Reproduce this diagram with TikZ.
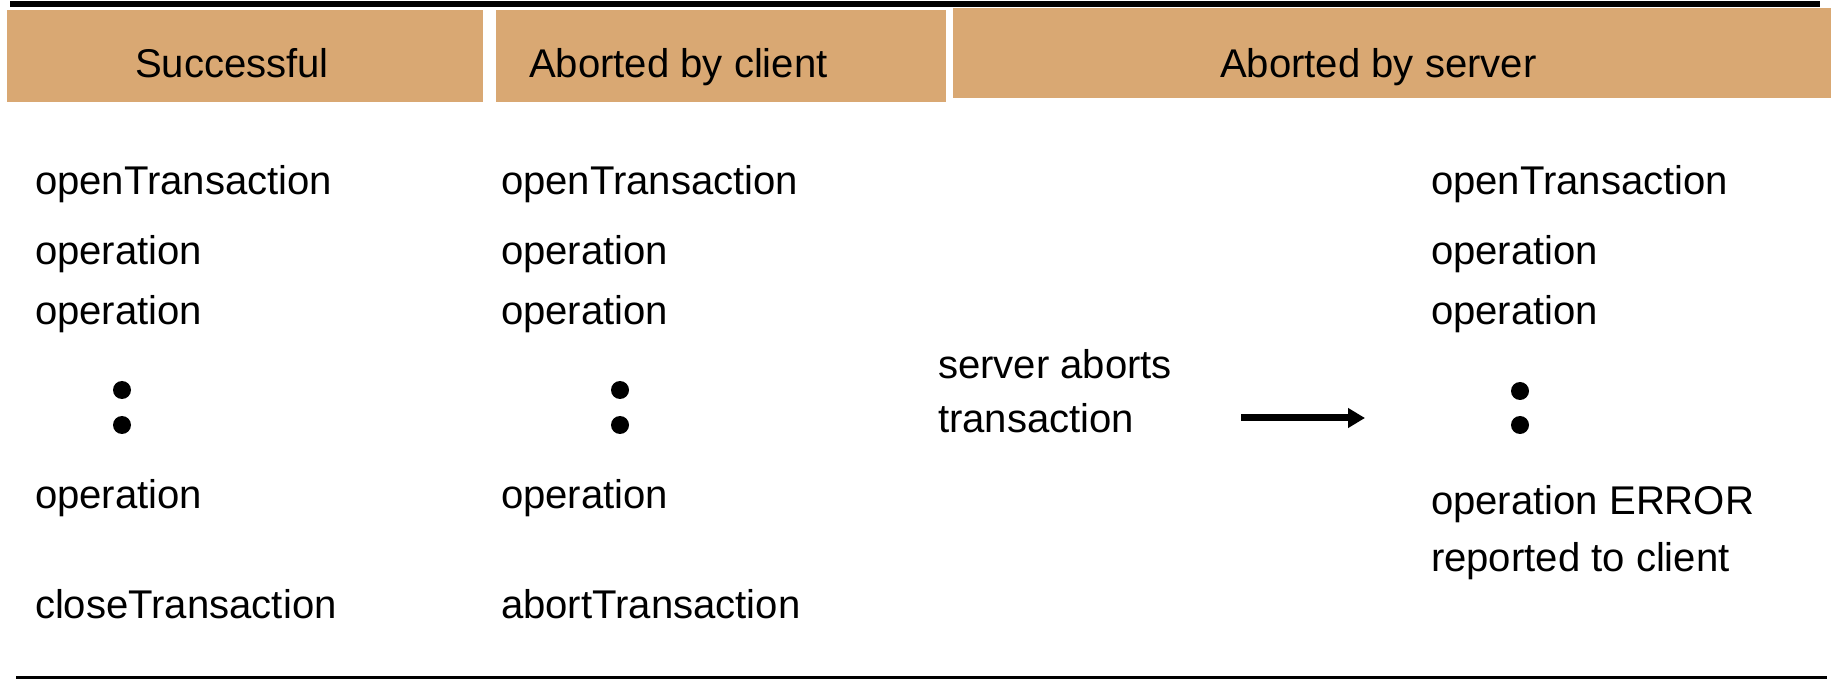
\documentclass[tikz,border=0pt]{standalone}
\usepackage{fontspec}
\setmainfont{Liberation Sans}
\usetikzlibrary{arrows.meta}
\definecolor{headfill}{RGB}{217,168,115}
\begin{document}
\begin{tikzpicture}[x=0.5pt,y=-0.5pt,
  txt/.style={anchor=base west,inner sep=0pt,outer sep=0pt,
    font=\fontsize{20.05pt}{24pt}\selectfont},
  headbox/.style={fill=headfill,draw=none},
  rule/.style={fill=black,draw=none},
  dotmark/.style={fill=black,draw=none}]
\useasboundingbox (0,0) rectangle (1838,679);

% rules above and below the table
\path[rule] (10,1) rectangle (1820,7);
\path[rule] (16,675.5) rectangle (1827,679);

% column headers
\path[headbox] (7,10) rectangle (483,102);
\path[headbox] (496,10) rectangle (946,102);
\path[headbox] (953,8) rectangle (1831,98);
\node[txt] (h1) at (135,78) {Successful};
\node[txt] (h2) at (529,78) {Aborted by client};
\node[txt] (h3) at (1220,78) {Aborted by server};

% successful
\node[txt] (s1) at (35,195) {openTransaction};
\node[txt] (s2) at (35,265) {operation};
\node[txt] (s3) at (35,325) {operation};
\fill[dotmark] (122,390) circle (9);
\fill[dotmark] (122,425) circle (9);
\node[txt] (s4) at (35,508) {operation};
\node[txt] (s5) at (35,618) {closeTransaction};

% aborted by client
\node[txt] (c1) at (501,195) {openTransaction};
\node[txt] (c2) at (501,265) {operation};
\node[txt] (c3) at (501,325) {operation};
\fill[dotmark] (620,390) circle (9);
\fill[dotmark] (620,425) circle (9);
\node[txt] (c4) at (501,508) {operation};
\node[txt] (c5) at (501,618) {abortTransaction};

% aborted by server
\node[txt] (a1) at (938,379) {server aborts};
\node[txt] (a2) at (938,432) {transaction};
\coordinate (arrtail) at (1241,418);
\coordinate (arrtip) at (1365,418);
\draw[line width=3.5pt,-{Triangle[length=8.5pt,width=9.5pt]}] (arrtail) -- (arrtip);

\node[txt] (v1) at (1431,195) {openTransaction};
\node[txt] (v2) at (1431,265) {operation};
\node[txt] (v3) at (1431,325) {operation};
\fill[dotmark] (1520,391) circle (9);
\fill[dotmark] (1520,425) circle (9);
\node[txt] (v4) at (1431,514) {operation ERROR};
\node[txt] (v5) at (1431,571) {reported to client};
\end{tikzpicture}
\end{document}
